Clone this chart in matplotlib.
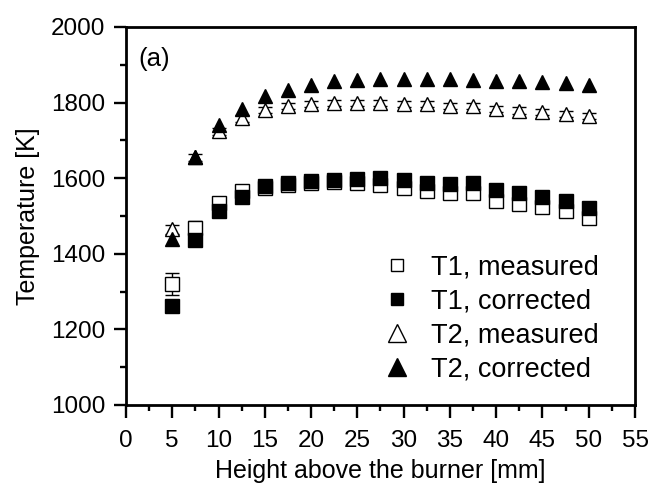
import matplotlib
matplotlib.use("Agg")
import matplotlib.pyplot as plt
from matplotlib.lines import Line2D

plt.rcParams['font.family'] = ['Liberation Sans', 'DejaVu Sans']

height = [5, 7.5, 10, 12.5, 15, 17.5, 20, 22.5, 25, 27.5, 30, 32.5, 35, 37.5, 40, 42.5, 45, 47.5, 50]
t1_measured = [1320, 1468, 1535, 1565, 1573, 1583, 1588, 1590, 1588, 1583, 1575, 1567, 1562, 1560, 1540, 1533, 1524, 1513, 1494]
t1_measured_err = [28, 20, 12, 10, 8, 8, 8, 8, 10, 10, 10, 10, 10, 10, 10, 12, 10, 10, 10]
t1_corrected = [1262, 1436, 1513, 1550, 1578, 1587, 1592, 1595, 1597, 1600, 1594, 1588, 1585, 1586, 1568, 1562, 1550, 1540, 1522]
t2_measured = [1465, 1655, 1724, 1758, 1780, 1790, 1795, 1798, 1800, 1800, 1797, 1795, 1792, 1790, 1784, 1779, 1775, 1771, 1765]
t2_measured_err = [12, 10, 10, 10, 8, 8, 8, 8, 8, 8, 8, 8, 8, 8, 8, 8, 8, 8, 8]
t2_corrected = [1440, 1655, 1740, 1783, 1818, 1833, 1846, 1856, 1861, 1862, 1863, 1862, 1862, 1860, 1858, 1856, 1854, 1851, 1846]

fig = plt.figure(figsize=(6.56, 4.87), dpi=100)
ax = fig.add_axes([0.192, 0.1684, 0.776, 0.7762])

ms = 9.5
ax.errorbar(height, t1_measured, yerr=t1_measured_err, fmt='s', mfc='white', mec='black',
            ecolor='black', elinewidth=1, capsize=5, capthick=1, ms=ms, mew=1, zorder=3)
ax.errorbar(height, t2_measured, yerr=t2_measured_err, fmt='^', mfc='white', mec='black',
            ecolor='black', elinewidth=1, capsize=5, capthick=1, ms=ms + 1, mew=1, zorder=3)
ax.plot(height, t1_corrected, 's', color='black', ms=ms, zorder=4)
ax.plot(height, t2_corrected, '^', color='black', ms=ms + 1, zorder=4)

ax.set_xlim(0, 55)
ax.set_ylim(1000, 2000)
ax.set_xticks(range(0, 56, 5))
ax.set_xticks([x + 2.5 for x in range(0, 55, 5)], minor=True)
ax.set_yticks(range(1000, 2001, 200))
ax.set_yticks(range(1100, 2000, 200), minor=True)
ax.tick_params(which='major', direction='out', length=9, width=1.7, labelsize=17.5)
ax.tick_params(axis='x', which='major', pad=9)
ax.tick_params(axis='y', which='major', pad=6)
ax.tick_params(which='minor', direction='out', length=4.5, width=1.7)
for s in ax.spines.values():
    s.set_linewidth(2)

ax.set_xlabel('Height above the burner [mm]', fontsize=18, labelpad=5)
ax.set_ylabel('Temperature [K]', fontsize=18, labelpad=8)
ax.text(0.024, 0.948, '(a)', transform=ax.transAxes, fontsize=18.5, va='top', ha='left')

labels = ['T1, measured', 'T1, corrected', 'T2, measured', 'T2, corrected']
leg_handles = [
    Line2D([], [], marker='s', ls='none', mfc='white', mec='black', ms=9, mew=1),
    Line2D([], [], marker='s', ls='none', color='black', ms=9),
    Line2D([], [], marker='^', ls='none', mfc='white', mec='black', ms=12.5, mew=1),
    Line2D([], [], marker='^', ls='none', color='black', ms=12.5),
]
ax.legend(leg_handles, labels, loc='lower right', bbox_to_anchor=(0.977, -0.005), frameon=False,
          fontsize=19.5, handletextpad=0.65, labelspacing=0.29, handlelength=1.2)

fig.savefig('out.png', dpi=100)
